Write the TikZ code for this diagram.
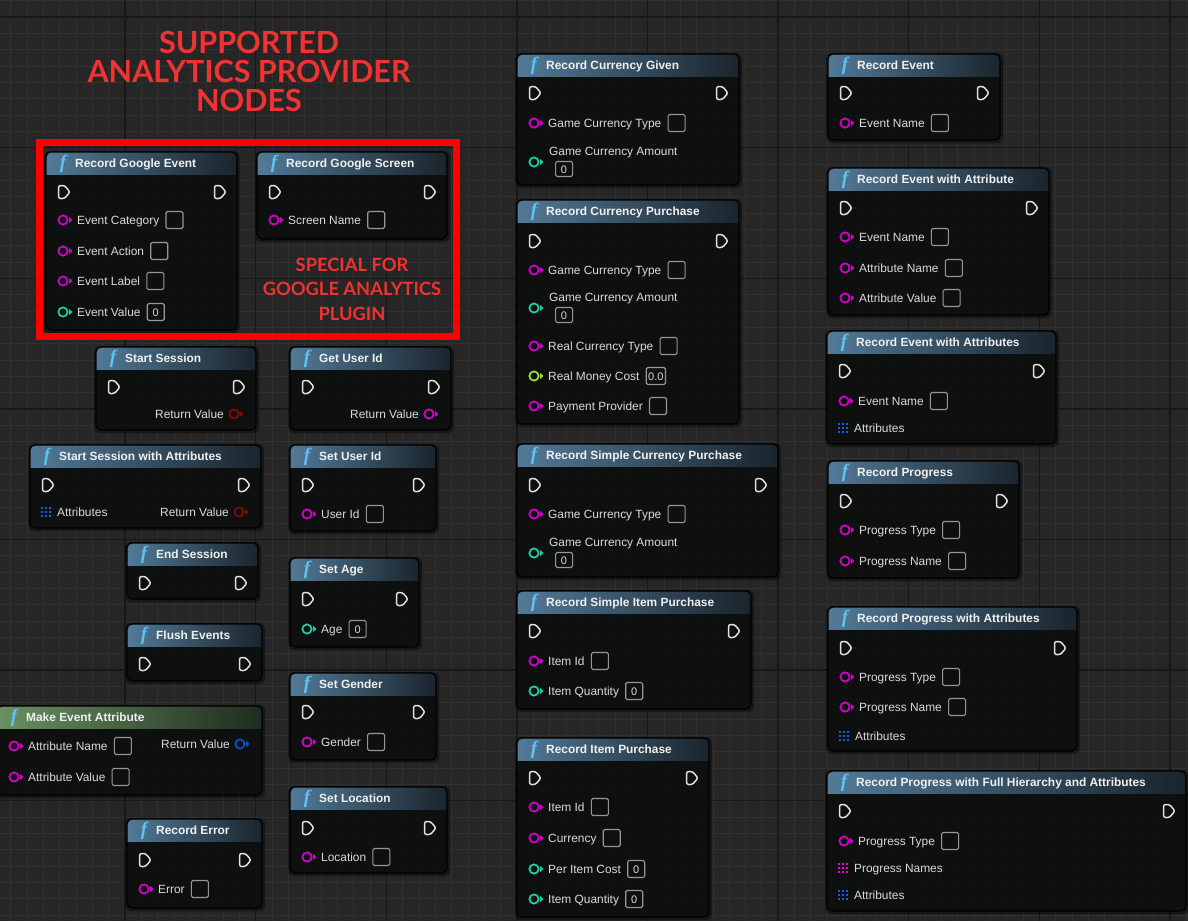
\documentclass[tikz,border=0pt]{standalone}
\usepackage{fontspec}
\setmainfont{Liberation Sans}
\newfontfamily\latofont{Lato}
\newfontfamily\fserif{Liberation Serif}
\definecolor{bg}{RGB}{38,38,38}
\definecolor{minorc}{RGB}{48,48,48}
\definecolor{majorc}{RGB}{24,24,24}
\definecolor{strc}{RGB}{210,0,200}
\definecolor{intc}{RGB}{30,205,160}
\definecolor{fltc}{RGB}{150,220,40}
\definecolor{sessc}{RGB}{130,8,8}
\definecolor{attrc}{RGB}{8,80,190}
\definecolor{arrc}{RGB}{10,95,230}
\definecolor{arrm}{RGB}{235,0,230}
\definecolor{execc}{RGB}{225,225,225}
\definecolor{txt}{RGB}{218,218,218}
\definecolor{boxc}{RGB}{150,150,150}
\definecolor{titlec}{RGB}{240,240,240}
\definecolor{fcol}{RGB}{95,195,245}
\definecolor{hdrL}{RGB}{82,122,152}
\definecolor{hdrR}{RGB}{26,36,44}
\definecolor{grnL}{RGB}{105,145,98}
\definecolor{grnR}{RGB}{32,44,32}
\definecolor{nodebg}{RGB}{14,16,16}
\definecolor{redbox}{RGB}{255,0,0}
\definecolor{redtxt}{RGB}{240,50,50}
\tikzset{
  minorgrid/.style={draw=minorc, line width=0.8pt},
  majorgrid/.style={draw=majorc, line width=1.4pt},
  nodeborder/.style={draw=black, line width=1.2pt},
  execpin/.style={draw=execc, line width=1.5pt, rounded corners=2.2pt, line join=round},
  pinlabel/.style={anchor=west, inner sep=0pt, text=txt, text height=10pt, text depth=1.5pt,
    font=\fontsize{11.9}{13}\selectfont},
  vbox/.style={anchor=west, draw=boxc, line width=1.1pt, rounded corners=1.5pt, minimum width=17pt,
    minimum height=17pt, inner sep=2pt, text=txt, text height=8pt, text depth=0pt,
    font=\fontsize{11}{12}\selectfont},
  titletext/.style={anchor=west, inner sep=0pt, text=titlec, text height=10pt, text depth=1.5pt,
    font=\bfseries\fontsize{11.9}{13}\selectfont},
  fglyph/.style={inner sep=0pt, text=fcol, font=\fserif\bfseries\itshape\fontsize{19}{19}\selectfont},
  redtitle/.style={align=center, text=redtxt, inner sep=0pt},
}
\newcommand{\bpnode}[7][hdr]{%
  \fill[black,opacity=0.4,rounded corners=6pt] (#3-2,#4-1) rectangle (#5+3,#6+3);
  \begin{scope}
    \clip[rounded corners=5pt] (#3,#4) rectangle (#5,#6);
    \fill[nodebg, fill opacity=0.88] (#3,#4) rectangle (#5,#6);
    \shade[left color=#1L, right color=#1R] (#3,#4) rectangle (#5,#4+22);
  \end{scope}
  \draw[nodeborder, rounded corners=5pt] (#3,#4) rectangle (#5,#6);
  \node[fglyph] (#2-f) at (#3+17,#4+12) {f};
  \node[titletext] (#2) at (#3+29,#4+11.5) {#7};
}
\newcommand{\execshape}[2]{%
  \draw[execpin] (#1-5.5,#2-6.5) -- (#1+0.5,#2-6.5) -- (#1+6,#2) -- (#1+0.5,#2+6.5) -- (#1-5.5,#2+6.5) -- cycle;}
\newcommand{\execs}[3]{\execshape{#1+18}{#3}\execshape{#2-17}{#3}}
\newcommand{\pinring}[3]{%
  \draw[#1, line width=1.8pt] (#2,#3) circle (4.6pt);
  \fill[#1] (#2+6.2,#3-3) -- (#2+9.4,#3) -- (#2+6.2,#3+3) -- cycle;}
\newcommand{\inpin}[5]{%
  \pinring{#2}{#3+17}{#4}
  \node[pinlabel] (#1) at (#3+31,#4) {#5};}
\newcommand{\outpin}[5]{%
  \pinring{#2}{#3-22}{#4}
  \node[pinlabel, anchor=east] (#1) at (#3-32,#4) {#5};}
\newcommand{\ebox}[1]{\node[vbox] (#1-v) at ([xshift=6pt]#1.east) {};}
\newcommand{\nbox}[2]{\node[vbox] (#1-v) at ([xshift=6pt]#1.east) {#2};}
\newcommand{\gridpin}[5]{%
  \foreach \i in {-1,0,1}{\foreach \j in {-1,0,1}{%
    \fill[#2] (#3+16+4*\i-1.25,#4+4*\j-1.25) rectangle (#3+16+4*\i+1.25,#4+4*\j+1.25);}}
  \node[pinlabel] (#1) at (#3+27,#4) {#5};}
\newcommand{\amtpin}[3]{%
  \pinring{intc}{#2+17}{#3}
  \node[pinlabel] (#1) at (#2+32,#3-11) {Game Currency Amount};
  \node[vbox, minimum height=15pt] (#1-v) at (#2+38,#3+7) {0};}
\begin{document}
\begin{tikzpicture}[x=1pt,y=-1pt]
\useasboundingbox (0,0) rectangle (1188,921);
\fill[bg] (0,0) rectangle (1188,921);
\foreach \i in {0,...,72}{\draw[minorgrid] ({10.7+16.33*\i},0) -- ({10.7+16.33*\i},921);}
\foreach \i in {0,...,56}{\draw[minorgrid] (0,{0.67+16.33*\i}) -- (1188,{0.67+16.33*\i});}
\foreach \i in {1,...,9}{\draw[majorgrid] ({-5.6+130.6*\i},0) -- ({-5.6+130.6*\i},921);}
\foreach \i in {0,...,6}{\draw[majorgrid] (0,{17+130.6*\i}) -- (1188,{17+130.6*\i});}

% title
\node[redtitle, font=\latofont\bfseries\fontsize{30.5}{29}\selectfont] (title) at (249,71.5)
  {SUPPORTED\\ANALYTICS PROVIDER\\NODES};

% ---- left group
\bpnode{GE}{46}{152}{237}{330}{Record Google Event}
\execs{46}{237}{192}
\inpin{GEc}{strc}{46}{220}{Event Category}\ebox{GEc}
\inpin{GEa}{strc}{46}{251}{Event Action}\ebox{GEa}
\inpin{GEl}{strc}{46}{281}{Event Label}\ebox{GEl}
\inpin{GEv}{intc}{46}{312}{Event Value}\nbox{GEv}{0}

\bpnode{GS}{257}{152}{447}{239}{Record Google Screen}
\execs{257}{447}{192}
\inpin{GSn}{strc}{257}{220}{Screen Name}\ebox{GSn}

\node[redtitle, font=\latofont\bfseries\fontsize{18.3}{24.5}\selectfont] (special) at (352,289)
  {SPECIAL FOR\\GOOGLE ANALYTICS\\PLUGIN};
\draw[redbox, line width=7pt] (39.5,142.5) rectangle (456.5,336.5);

\bpnode{SS}{96}{347}{256}{430}{Start Session}
\execs{96}{256}{387}
\outpin{SSr}{sessc}{256}{414}{Return Value}

\bpnode{GU}{290}{347}{451}{430}{Get User Id}
\execs{290}{451}{387}
\outpin{GUr}{strc}{451}{414}{Return Value}

\bpnode{SA}{30}{445}{261}{528}{Start Session with Attributes}
\execs{30}{261}{485}
\gridpin{SAa}{arrc}{30}{512}{Attributes}
\outpin{SAr}{sessc}{261}{512}{Return Value}

\bpnode{SU}{290}{445}{436}{531}{Set User Id}
\execs{290}{436}{485}
\inpin{SUi}{strc}{290}{514}{User Id}\ebox{SUi}

\bpnode{ES}{127}{543}{258}{599}{End Session}
\execs{127}{258}{583}

\bpnode{FE}{127}{624}{262}{681}{Flush Events}
\execs{127}{262}{664}

\bpnode{AG}{290}{558}{419}{647}{Set Age}
\execs{290}{419}{599}
\inpin{AGa}{intc}{290}{629}{Age}\nbox{AGa}{0}

\bpnode{GD}{290}{673}{436}{760}{Set Gender}
\execs{290}{436}{712}
\inpin{GDg}{strc}{290}{742}{Gender}\ebox{GDg}

\bpnode[grn]{MA}{-3}{706}{262}{795}{Make Event Attribute}
\inpin{MAn}{strc}{-3}{746}{Attribute Name}\ebox{MAn}
\inpin{MAv}{strc}{-3}{777}{Attribute Value}\ebox{MAv}
\outpin{MAr}{attrc}{262}{744}{Return Value}

\bpnode{SL}{290}{787}{447}{873}{Set Location}
\execs{290}{447}{828}
\inpin{SLl}{strc}{290}{857}{Location}\ebox{SLl}

\bpnode{RE}{127}{819}{262}{908}{Record Error}
\execs{127}{262}{860}
\inpin{REe}{strc}{127}{889}{Error}\ebox{REe}

% ---- middle column
\bpnode{CG}{517}{54}{739}{185}{Record Currency Given}
\execs{517}{739}{93}
\inpin{CGt}{strc}{517}{123}{Game Currency Type}\ebox{CGt}
\amtpin{CGa}{517}{162}

\bpnode{CP}{517}{200}{739}{424}{Record Currency Purchase}
\execs{517}{739}{241}
\inpin{CPt}{strc}{517}{270}{Game Currency Type}\ebox{CPt}
\amtpin{CPa}{517}{308}
\inpin{CPr}{strc}{517}{346}{Real Currency Type}\ebox{CPr}
\inpin{CPm}{fltc}{517}{376}{Real Money Cost}\nbox{CPm}{0.0}
\inpin{CPp}{strc}{517}{406}{Payment Provider}\ebox{CPp}

\bpnode{SC}{517}{444}{778}{577}{Record Simple Currency Purchase}
\execs{517}{778}{485}
\inpin{SCt}{strc}{517}{514}{Game Currency Type}\ebox{SCt}
\amtpin{SCa}{517}{553}

\bpnode{SI}{517}{591}{751}{709}{Record Simple Item Purchase}
\execs{517}{751}{631}
\inpin{SIi}{strc}{517}{661}{Item Id}\ebox{SIi}
\inpin{SIq}{intc}{517}{691}{Item Quantity}\nbox{SIq}{0}

\bpnode{IP}{517}{738}{709}{917}{Record Item Purchase}
\execs{517}{709}{778}
\inpin{IPi}{strc}{517}{807}{Item Id}\ebox{IPi}
\inpin{IPc}{strc}{517}{838}{Currency}\ebox{IPc}
\inpin{IPp}{intc}{517}{869}{Per Item Cost}\nbox{IPp}{0}
\inpin{IPq}{intc}{517}{899}{Item Quantity}\nbox{IPq}{0}

% ---- right column
\bpnode{RV}{828}{54}{1000}{140}{Record Event}
\execs{828}{1000}{93}
\inpin{RVn}{strc}{828}{123}{Event Name}\ebox{RVn}

\bpnode{RA}{828}{168}{1049}{315}{Record Event with Attribute}
\execs{828}{1049}{208}
\inpin{RAn}{strc}{828}{237}{Event Name}\ebox{RAn}
\inpin{RAa}{strc}{828}{268}{Attribute Name}\ebox{RAa}
\inpin{RAv}{strc}{828}{298}{Attribute Value}\ebox{RAv}

\bpnode{RS}{827}{331}{1056}{444}{Record Event with Attributes}
\execs{827}{1056}{371}
\inpin{RSn}{strc}{827}{401}{Event Name}\ebox{RSn}
\gridpin{RSa}{arrc}{827}{428}{Attributes}

\bpnode{RP}{828}{461}{1019}{578}{Record Progress}
\execs{828}{1019}{501}
\inpin{RPt}{strc}{828}{530}{Progress Type}\ebox{RPt}
\inpin{RPn}{strc}{828}{561}{Progress Name}\ebox{RPn}

\bpnode{RQ}{828}{607}{1077}{751}{Record Progress with Attributes}
\execs{828}{1077}{648}
\inpin{RQt}{strc}{828}{677}{Progress Type}\ebox{RQt}
\inpin{RQn}{strc}{828}{707}{Progress Name}\ebox{RQn}
\gridpin{RQa}{arrc}{828}{736}{Attributes}

\bpnode{RF}{827}{771}{1186}{911}{Record Progress with Full Hierarchy and Attributes}
\execs{827}{1186}{811}
\inpin{RFt}{strc}{827}{841}{Progress Type}\ebox{RFt}
\gridpin{RFn}{arrm}{827}{868}{Progress Names}
\gridpin{RFa}{arrc}{827}{895}{Attributes}
\end{tikzpicture}
\end{document}
